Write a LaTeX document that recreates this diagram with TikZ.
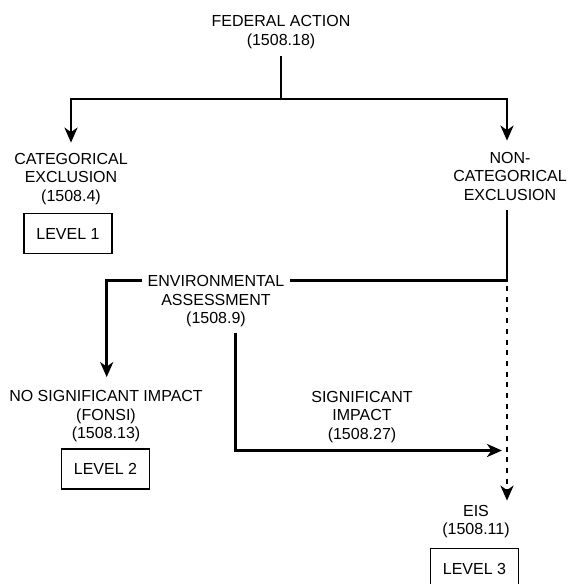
\documentclass[tikz,border=0pt]{standalone}
\usepackage{fontspec}
\setmainfont{Liberation Sans}
\usetikzlibrary{arrows.meta}
\begin{document}
\begin{tikzpicture}[x=1pt,y=-1pt,
  lbl/.style={align=center, inner sep=0pt, anchor=base, font=\fontsize{16}{18.5}\selectfont},
  levelbox/.style={draw, line width=1.8pt, inner sep=0pt, minimum width=88pt, minimum height=40pt, font=\fontsize{16}{18.5}\selectfont},
  conn/.style={line width=2.6pt},
  tip/.style={-{Stealth[length=15pt,width=13pt,inset=4.5pt]}},
  arr/.style={conn, tip},
  dotline/.style={conn, tip, dash pattern=on 5pt off 5.7pt, dash phase=5.4pt},
]
\useasboundingbox (0,0) rectangle (569,584);
% labels (anchored at the baseline of the last line)
\node[lbl] (fed) at (281,45.3) {FEDERAL ACTION\\(1508.18)};
\node[lbl] (catex) at (71,201) {CATEGORICAL\\EXCLUSION\\(1508.4)};
\node[lbl] (noncat) at (510,200) {NON-\\CATEGORICAL\\EXCLUSION};
\node[lbl] (env) at (216,323.5) {ENVIRONMENTAL\\ASSESSMENT\\(1508.9)};
\node[lbl] (fonsi) at (106,438.5) {NO SIGNIFICANT IMPACT\\(FONSI)\\(1508.13)};
\node[lbl] (sig) at (362,439) {SIGNIFICANT\\IMPACT\\(1508.27)};
\node[lbl] (eis) at (476,534.5) {EIS\\(1508.11)};
% level boxes
\node[levelbox] (lv1) at (68,233.5) {LEVEL 1};
\node[levelbox] (lv2) at (105.5,469) {LEVEL 2};
\node[levelbox] (lv3) at (474.5,568.5) {LEVEL 3};
% junctions
\coordinate (j1) at (281,99);
\coordinate (j2) at (507,280.7);
\coordinate (j3) at (507,450.5);
% connectors
\draw[conn, shorten <=7.5pt] (fed.south) -- (j1);
\draw[arr, shorten >=10pt] (j1) -| (catex.north);
\draw[arr, shorten >=11pt] (j1) -| ([xshift=-3pt]noncat.north);
\draw[conn, shorten <=9.5pt, shorten >=5.7pt] ([xshift=-3pt]noncat.south) -- (j2) -- ([yshift=42.8pt]env.base east);
\draw[arr, shorten <=5.6pt, shorten >=13pt] ([yshift=42.8pt]env.base west) -| ([xshift=0.7pt]fonsi.north);
\draw[arr, shorten <=5.7pt, shorten >=5pt] ([xshift=19.7pt]env.south) |- (j3);
\draw[dotline, shorten >=4pt] (j2) -- (j2 |- eis.north);
\end{tikzpicture}
\end{document}
